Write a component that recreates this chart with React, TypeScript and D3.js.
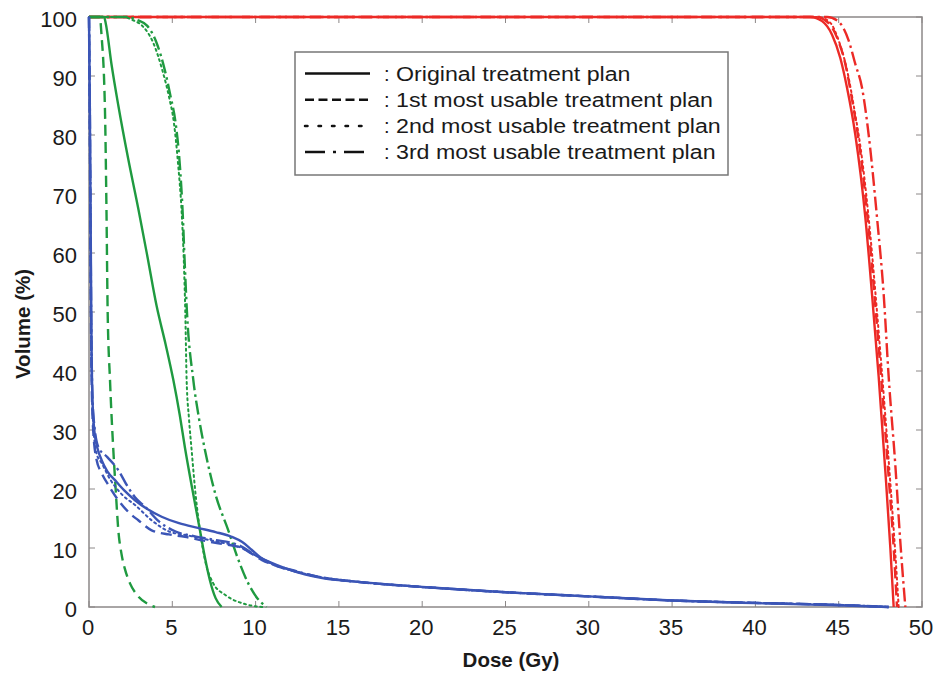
import * as React from "react";
import * as d3 from "d3";

// dose (Gy), volume (%)
const redOriginal = [[0, 100], [43.3, 100], [44, 99.3], [44.6, 97], [45.1, 93], [45.5, 88], [46, 80], [46.6, 66], [47, 53], [47.4, 39], [47.8, 23], [48.1, 10], [48.3, 0]];
const redFirst = [[0, 100], [43.6, 100], [44.3, 99.2], [44.9, 96.5], [45.4, 92], [45.8, 86], [46.3, 77], [46.8, 64], [47.2, 51], [47.6, 37], [48, 22], [48.3, 10], [48.5, 0]];
const redSecond = [[0, 100], [43.8, 100], [44.5, 99], [45, 96], [45.5, 91], [45.9, 85], [46.4, 76], [46.9, 63], [47.3, 50], [47.7, 36], [48.1, 21], [48.4, 9], [48.6, 0]];
const redThird = [[0, 100], [44.3, 100], [45, 99.2], [45.6, 96], [46, 92], [46.4, 88], [46.8, 80], [47.3, 66], [47.7, 53], [48, 39], [48.4, 24], [48.7, 11], [49, 0]];

const greenOriginal = [[0, 100], [0.9, 100], [1.0, 99], [1.35, 92], [1.76, 85], [2.35, 76], [2.96, 67.5], [3.5, 59.5], [4.06, 51], [4.6, 44.5], [5.06, 38.5], [5.45, 32.5], [5.76, 27], [6.2, 20], [6.66, 13], [6.95, 8.5], [7.26, 4.5], [7.6, 1.5], [7.96, 0]];
const greenFirst = [[0, 100], [0.65, 100], [0.75, 97], [0.96, 84], [1.05, 67], [1.12, 50], [1.26, 38.5], [1.46, 26.6], [1.6, 20], [1.76, 13], [1.95, 9], [2.15, 6.5], [2.46, 4], [2.9, 2], [3.54, 0.5], [3.96, 0]];
const greenSecond = [[0, 100], [2.1, 100], [2.6, 99.5], [3.2, 98.5], [3.86, 95.6], [4.4, 91], [4.8, 86.5], [5.1, 82], [5.35, 75], [5.56, 67], [5.7, 58], [5.78, 50], [5.86, 38.5], [6.0, 32], [6.16, 26.6], [6.4, 19], [6.66, 13], [7.0, 7.5], [7.46, 4], [8.2, 2], [9.36, 0.5], [10.4, 0]];
const greenThird = [[0, 100], [2.3, 100], [2.9, 99.5], [3.5, 98.5], [4.06, 95.6], [4.55, 91], [4.9, 86.5], [5.2, 82], [5.45, 75], [5.62, 67], [5.75, 58], [5.88, 50], [6.26, 38.5], [6.6, 32], [6.96, 26.6], [7.6, 19], [8.36, 13], [8.9, 8.5], [9.56, 4], [10.1, 1.5], [10.66, 0]];

const blueOriginal = [[0, 100], [0.05, 85], [0.1, 65], [0.15, 45], [0.2, 36], [0.3, 30.5], [0.5, 27], [0.76, 24.9], [1.1, 23], [1.56, 21.5], [2.1, 19.8], [2.76, 18.1], [3.5, 16.6], [4.36, 15.3], [5.4, 14.2], [6.54, 13.4], [7.6, 12.7], [8.56, 11.9], [9.2, 11], [9.76, 9.7], [10.3, 8.4], [10.96, 7.5], [11.76, 6.6], [13, 5.5], [14, 4.9], [16, 4.3], [20, 3.4], [25, 2.5], [30, 1.8], [35, 1.1], [40, 0.65], [45, 0.3], [48, 0]];
const blueFirst = [[0, 100], [0.05, 80], [0.1, 55], [0.15, 40], [0.25, 30], [0.45, 25], [0.76, 22.7], [1.2, 20.5], [1.76, 18.1], [2.4, 16], [2.96, 14.7], [3.76, 13], [4.8, 12.3], [5.76, 11.9], [6.8, 11.3], [7.76, 10.8], [9.16, 10], [10.36, 8], [11.2, 7], [12.3, 6.1], [14, 5], [16, 4.3], [20, 3.4], [25, 2.5], [30, 1.8], [35, 1.1], [40, 0.7], [45, 0.35], [48, 0]];
const blueSecond = [[0, 100], [0.05, 80], [0.1, 58], [0.15, 42], [0.25, 31], [0.45, 26], [0.76, 24.4], [1.3, 21.5], [2.0, 19], [2.76, 17.3], [3.76, 14.7], [4.8, 12.8], [5.8, 12.2], [6.8, 11.6], [7.8, 11], [9, 10.2], [10.2, 8.4], [11.2, 7], [12.3, 6.1], [14, 5], [16, 4.3], [20, 3.4], [25, 2.5], [30, 1.8], [35, 1.1], [40, 0.7], [45, 0.35], [48, 0]];
const blueThird = [[0, 100], [0.05, 85], [0.1, 62], [0.15, 44], [0.25, 33], [0.56, 27.1], [1.1, 25.4], [1.76, 23.2], [2.3, 20.5], [2.76, 18.6], [3.36, 17], [4.2, 14.5], [5.2, 12.8], [6.3, 12], [7.5, 11.4], [8.96, 10.5], [10.16, 8.5], [11.2, 7.1], [12.4, 6.1], [14, 5], [16, 4.3], [20, 3.4], [25, 2.5], [30, 1.8], [35, 1.1], [40, 0.7], [45, 0.35], [48, 0]];

const xTicks = [0, 5, 10, 15, 20, 25, 30, 35, 40, 45, 50];
const yTicks = [0, 10, 20, 30, 40, 50, 60, 70, 80, 90, 100];

const planLabels = [
  "Original treatment plan",
  "1st most usable treatment plan",
  "2nd most usable treatment plan",
  "3rd most usable treatment plan",
];

const RED = "#ec2a26";
const GREEN = "#1f9a40";
const BLUE = "#3b55b6";

const dashes = ["none", "11 6", "2 3.5", "14 4 2.5 4"];
const legendDashes = ["none", "9 4.5", "2.5 11", "20 8 3 8"];

const curves = [
  { data: redOriginal, color: RED, style: 0 },
  { data: redFirst, color: RED, style: 1 },
  { data: redSecond, color: RED, style: 2 },
  { data: redThird, color: RED, style: 3 },
  { data: greenOriginal, color: GREEN, style: 0 },
  { data: greenFirst, color: GREEN, style: 1 },
  { data: greenSecond, color: GREEN, style: 2 },
  { data: greenThird, color: GREEN, style: 3 },
  { data: blueFirst, color: BLUE, style: 1 },
  { data: blueSecond, color: BLUE, style: 2 },
  { data: blueThird, color: BLUE, style: 3 },
  { data: blueOriginal, color: BLUE, style: 0 },
];

const App = () => {
  const width = 938;
  const height = 674;
  const left = 89;
  const right = 922;
  const top = 17;
  const bottom = 607;
  const font = "Liberation Sans, Arial, sans-serif";

  const x = d3.scaleLinear().domain([0, 50]).range([left, right]);
  const y = d3.scaleLinear().domain([0, 100]).range([bottom, top]);

  const line = d3
    .line<number[]>()
    .x((d) => x(d[0]))
    .y((d) => y(d[1]))
    .curve(d3.curveMonotoneX);

  const axisColor = "#8c8888";

  return (
    <svg
      width={width}
      height={height}
      viewBox={`0 0 ${width} ${height}`}
      style={{ position: "absolute", left: 0, top: 0, background: "#fff" }}
    >
      <rect x={left} y={top} width={right - left} height={bottom - top} fill="none" stroke={axisColor} strokeWidth="1.5" />

      {xTicks.map((t) => (
        <g key={`x${t}`}>
          <line x1={x(t)} x2={x(t)} y1={bottom} y2={bottom - 6} stroke={axisColor} strokeWidth="1" />
          <line x1={x(t)} x2={x(t)} y1={top} y2={top + 6} stroke={axisColor} strokeWidth="1" />
          <text x={x(t) - 1} y={635} textAnchor="middle" fontSize="22" fontFamily={font} fill="#1a1a1a">
            {t}
          </text>
        </g>
      ))}
      {yTicks.map((t) => (
        <g key={`y${t}`}>
          <line x1={left} x2={left + 6} y1={y(t)} y2={y(t)} stroke={axisColor} strokeWidth="1" />
          <line x1={right} x2={right - 6} y1={y(t)} y2={y(t)} stroke={axisColor} strokeWidth="1" />
          <text x={left - 12} y={y(t) + 10.3} textAnchor="end" fontSize="22" fontFamily={font} fill="#1a1a1a">
            {t}
          </text>
        </g>
      ))}

      {curves.map((c, i) => (
        <path
          key={i}
          d={line(c.data) ?? ""}
          fill="none"
          stroke={c.color}
          strokeWidth={c.style === 2 ? 2 : 2.4}
          strokeDasharray={dashes[c.style]}
          strokeLinecap={c.style === 2 ? "round" : "butt"}
        />
      ))}

      <text
        x={511}
        y={667}
        textAnchor="middle"
        fontSize="20.5"
        fontWeight="bold"
        fontFamily={font}
        fill="#1a1a1a"
      >
        Dose (Gy)
      </text>
      <text
        transform={`translate(30, ${(top + bottom) / 2 + 12}) rotate(-90)`}
        textAnchor="middle"
        fontSize="20.5"
        fontWeight="bold"
        fontFamily={font}
        fill="#1a1a1a"
      >
        Volume (%)
      </text>

      <g>
        <rect x={295} y={52} width={433} height={123} fill="#fff" stroke="#777" strokeWidth="1.5" />
        {planLabels.map((label, i) => {
          const cy = 73.5 + i * 26.2;
          return (
            <g key={label}>
              <line
                x1={305}
                x2={370}
                y1={cy}
                y2={cy}
                stroke="#111"
                strokeWidth={2.5}
                strokeDasharray={legendDashes[i]}
                strokeLinecap={i === 2 ? "round" : "butt"}
              />
              <text x={384} y={cy + 7} fontSize="20" fontFamily={font} fill="#1a1a1a">
                :
              </text>
              <text
                transform={`translate(396, ${cy + 7}) scale(1.16, 1)`}
                fontSize="20"
                fontFamily={font}
                fill="#1a1a1a"
              >
                {label}
              </text>
            </g>
          );
        })}
      </g>
    </svg>
  );
};

export default App;
